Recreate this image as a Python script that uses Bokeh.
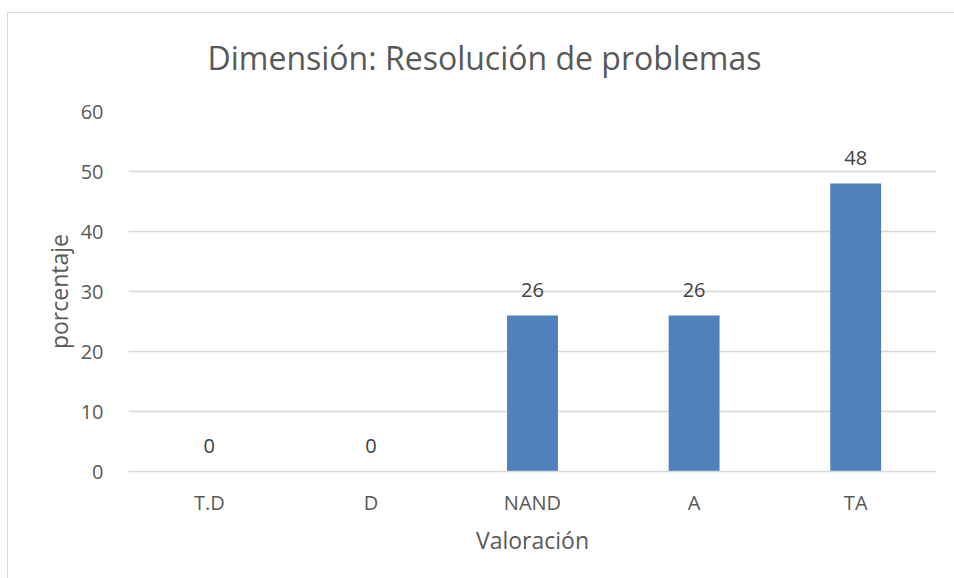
from bokeh.plotting import figure
from bokeh.models import ColumnDataSource, LabelSet, FixedTicker, Range1d
from bokeh.core.properties import value
from bokeh.embed import file_html
from bokeh.resources import INLINE

categories = ["T.D", "D", "NAND", "A", "TA"]
values = [0, 0, 26, 26, 48]
value_labels = [str(v) for v in values]
y_ticks = [0, 10, 20, 30, 40, 50, 60]
title_text = "Dimensión: Resolución de problemas"
x_title = "Valoración"
y_title = "porcentaje"

FONT = "Open Sans"
GRAY = "#595959"
GRID = "#d9d9d9"

source = ColumnDataSource(dict(cat=categories, val=values, lab=value_labels))

p = figure(x_range=categories, y_range=Range1d(0, 60), width=954, height=578,
           output_backend="svg", toolbar_location=None, title=title_text,
           min_border_left=128, min_border_right=18, min_border_top=111, min_border_bottom=107)
p.styles = {
    "background-color": "white",
    "background-image": "linear-gradient(#d9d9d9, #d9d9d9), linear-gradient(#d9d9d9, #d9d9d9)",
    "background-size": "1px 100%, 100% 1px",
    "background-position": "7px 12px, 7px 12px",
    "background-repeat": "no-repeat",
}

p.title.align = "left"
p.title.text_font = FONT
p.title.text_font_size = "32px"
p.title.text_font_style = "normal"
p.title.text_color = GRAY
p.title.standoff = 66
p.title.offset = 79

p.vbar(x="cat", top="val", width=0.315, source=source, color="#4f81bd", line_color=None)

labels = LabelSet(x="cat", y="val", text="lab", source=source, y_offset=26,
                  text_align="center", text_baseline="middle",
                  text_font=value(FONT), text_font_size="20px", text_color="#404040")
p.add_layout(labels)

p.outline_line_color = None
p.background_fill_color = None
p.border_fill_color = None

p.xgrid.grid_line_color = None
p.ygrid.grid_line_color = GRID
p.ygrid.grid_line_width = 1.5
p.yaxis.ticker = FixedTicker(ticks=y_ticks)

for ax in (p.xaxis[0], p.yaxis[0]):
    ax.major_tick_line_color = None
    ax.minor_tick_line_color = None
    ax.major_label_text_font = FONT
    ax.major_label_text_font_size = "20px"
    ax.major_label_text_color = GRAY
    ax.axis_label_text_font = FONT
    ax.axis_label_text_font_size = "23px"
    ax.axis_label_text_font_style = "normal"
    ax.axis_label_text_color = GRAY

p.yaxis.axis_line_color = None
p.xaxis.axis_line_color = GRID
p.xaxis.axis_line_width = 1.5
p.yaxis.axis_label = y_title
p.xaxis.axis_label = x_title
p.yaxis.major_label_standoff = 19
p.yaxis.axis_label_standoff = 3
p.xaxis.major_label_standoff = 11
p.xaxis.axis_label_standoff = 5

open("out.html", "w").write(file_html(p, INLINE))
